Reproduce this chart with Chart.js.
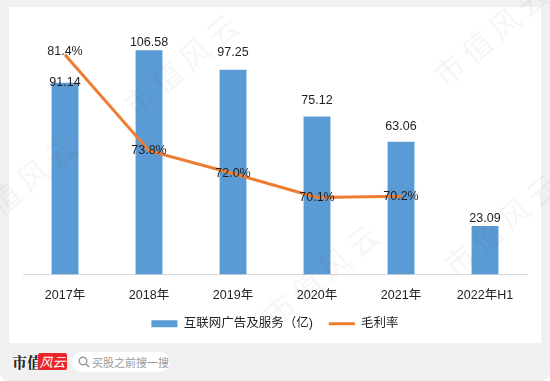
<!DOCTYPE html>
<html>
<head>
<meta charset="utf-8">
<script src="https://cdn.jsdelivr.net/npm/chart.js@4/dist/chart.umd.min.js"></script>
<style>
  html, body { margin: 0; padding: 0; background: #ffffff; }
  #frame { position: relative; width: 550px; height: 381px; background: #f0f0f0; border-radius: 0 0 9px 9px; overflow: hidden; font-family: "Liberation Sans", "Noto Sans CJK SC", sans-serif; }
  #panel { position: absolute; left: 9px; top: 7px; width: 532px; height: 336px; background: #ffffff; }
  #panel canvas { position: absolute; left: 0; top: 0; }
  .wm { position: absolute; color: rgba(0,0,0,0.04); font-size: 30px; font-family: "Noto Sans CJK SC", serif; transform: rotate(-40deg); white-space: nowrap; pointer-events: none; letter-spacing: 6px; }
  #logo1 { position: absolute; left: 12px; top: 352px; font-size: 15px; font-weight: bold; font-family: "Noto Serif CJK SC", "Noto Sans CJK SC", serif; color: #222; line-height: 20px; }
  #logo2 { position: absolute; left: 38px; top: 353px; width: 29px; height: 17px; background: #e8262b; border-radius: 2px; color: #fff; font-size: 13px; font-style: italic; line-height: 17px; text-align: center; font-family: "Noto Sans CJK SC", sans-serif; }
  #search { position: absolute; left: 72px; top: 352px; width: 98px; height: 20px; background: #fff; border-radius: 10px; }
  #search .txt { position: absolute; left: 20px; top: 0; font-size: 11px; line-height: 20px; color: #9a9a9a; font-family: "Noto Sans CJK SC", sans-serif; }
  #search svg { position: absolute; left: 6px; top: 4px; }
</style>
</head>
<body>
<div id="frame">
  <div id="panel"><canvas id="c" width="532" height="336"></canvas></div>
  <div class="wm" style="left:110px; top:40px;">市值风云</div>
  <div class="wm" style="left:420px; top:10px;">市值风云</div>
  <div class="wm" style="left:-20px; top:150px;">值风云</div>
  <div class="wm" style="left:250px; top:250px;">市值风云</div>
  <div class="wm" style="left:430px; top:200px;">市值风云</div>
  <div id="logo1">市值</div>
  <div id="logo2">风云</div>
  <div id="search">
    <svg width="12" height="12" viewBox="0 0 12 12"><circle cx="5" cy="5" r="3.8" fill="none" stroke="#999" stroke-width="1.4"/><line x1="7.8" y1="7.8" x2="11" y2="11" stroke="#999" stroke-width="1.5"/></svg>
    <span class="txt">买股之前搜一搜</span>
  </div>
</div>
<script>
// ---- data ----
const categories = ["2017年", "2018年", "2019年", "2020年", "2021年", "2022年H1"];
const revenue = [91.14, 106.58, 97.25, 75.12, 63.06, 23.09];
const grossMargin = [81.4, 73.8, 72.0, 70.1, 70.2, null];
const revenueLabel = "互联网广告及服务（亿)";
const marginLabel = "毛利率";
// label vertical offsets (style only)
const revenueLabelOffsets = [0, -8, -17, -16, -15, -7];
const marginLabelOffsets = [-3, 0, 0, 0, 0, 0];

const FONT = '"Liberation Sans", "Noto Sans CJK SC", sans-serif';

const labelPlugin = {
  id: 'valueLabels',
  afterDatasetsDraw(chart) {
    const ctx = chart.ctx;
    ctx.save();
    ctx.font = '12.5px ' + FONT;
    ctx.fillStyle = '#1f1f1f';
    ctx.textAlign = 'center';
    ctx.textBaseline = 'middle';
    const barMeta = chart.getDatasetMeta(0);
    barMeta.data.forEach((el, i) => {
      ctx.fillText(revenue[i].toFixed(2), el.x, el.y + revenueLabelOffsets[i]);
    });
    const lineMeta = chart.getDatasetMeta(1);
    lineMeta.data.forEach((el, i) => {
      if (grossMargin[i] == null) return;
      ctx.fillText(grossMargin[i].toFixed(1) + '%', el.x, el.y + marginLabelOffsets[i]);
    });
    ctx.restore();
  }
};

new Chart(document.getElementById('c'), {
  data: {
    labels: categories,
    datasets: [
      {
        type: 'bar',
        label: revenueLabel,
        data: revenue,
        backgroundColor: '#5B9BD5',
        borderWidth: 0,
        barPercentage: 0.64,
        categoryPercentage: 0.5,
        yAxisID: 'y',
        pointStyle: 'rect',
        order: 2
      },
      {
        type: 'line',
        label: marginLabel,
        data: grossMargin,
        borderColor: '#ED7D31',
        backgroundColor: '#ED7D31',
        borderWidth: 3,
        pointRadius: 0,
        pointHoverRadius: 0,
        pointStyle: 'line',
        tension: 0,
        yAxisID: 'y2',
        order: 1
      }
    ]
  },
  options: {
    responsive: false,
    animation: false,
    devicePixelRatio: 1,
    layout: { padding: { left: 14, right: 14, top: 15, bottom: 3 } },
    scales: {
      x: {
        grid: { display: false, drawTicks: false, tickLength: 0 },
        border: { display: true, color: '#d9d9d9', width: 1 },
        ticks: { color: '#1f1f1f', font: { size: 12.5, family: FONT }, padding: 14, maxRotation: 0 },
        afterFit(scale) { scale.height = 27; }
      },
      y: { display: false, min: 0, max: 120 },
      y2: { display: false, min: 64, max: 84, position: 'right' }
    },
    plugins: {
      legend: {
        position: 'bottom',
        labels: {
          usePointStyle: true,
          pointStyleWidth: 26,
          boxHeight: 7,
          color: '#1f1f1f',
          font: { size: 12.5, family: FONT },
          padding: 16,
          sort: (a, b) => a.datasetIndex - b.datasetIndex
        }
      },
      tooltip: { enabled: false }
    }
  },
  plugins: [labelPlugin]
});
</script>
</body>
</html>
